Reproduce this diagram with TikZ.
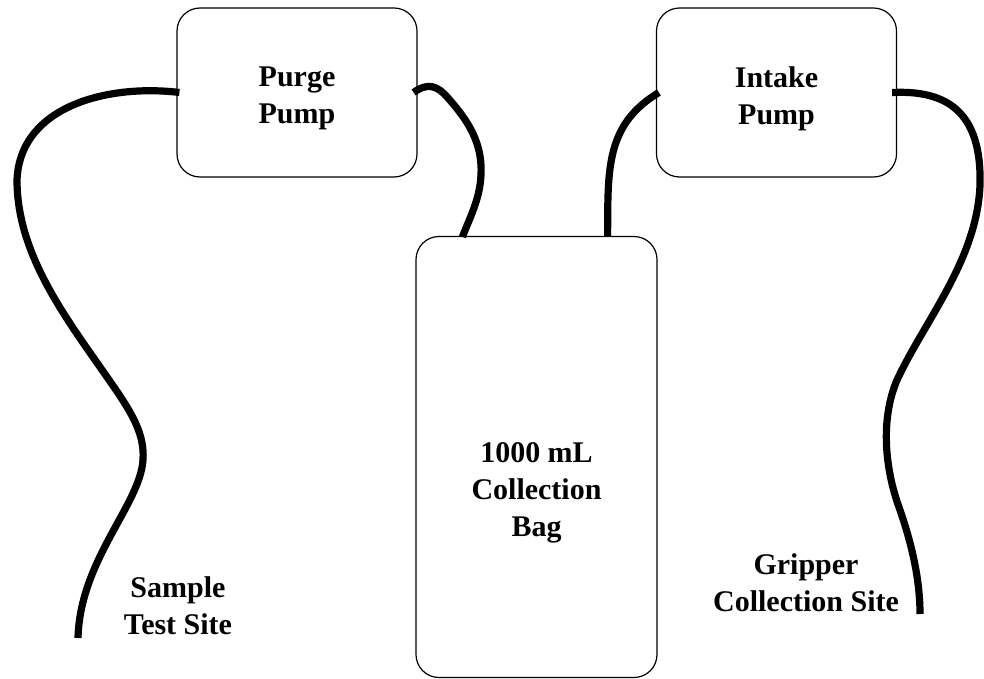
\documentclass[tikz,border=0pt]{standalone}
\usepackage{fontspec}
\setmainfont{Liberation Serif}
\usetikzlibrary{calc}

\begin{document}
\begin{tikzpicture}[
  x=0.5pt,
  y=-0.5pt,
  every node/.style={font=\fontsize{15}{18.5}\selectfont\bfseries, align=center},
  pumpbox/.style={draw, line width=0.6pt, rounded corners=11.5pt,
                  minimum width=120pt, minimum height=84.5pt, inner sep=0pt},
  bagbox/.style={pumpbox, minimum width=120.5pt, minimum height=220.5pt},
  tube/.style={line width=3.6pt, line cap=butt}
]
  \useasboundingbox (0,0) rectangle (984,679);

  % ---- pumps and the bag ----
  \node[pumpbox] (purge)  at (297,92.5)   {};
  \node[pumpbox] (intake) at (776.5,92.5) {};
  \node[bagbox]  (bag)    at (536.5,457)  {};

  % ---- box labels (set a little below centre) ----
  \node (purgelabel)  at ($(purge.center)+(0,6)$)  {Purge\\Pump};
  \node (intakelabel) at ($(intake.center)+(0,6)$) {Intake\\Pump};
  \node (baglabel)    at ($(bag.center)+(0,36)$)   {1000 mL\\Collection\\Bag};

  % ---- open ends of the lines ----
  \coordinate (sample)  at (78,638);
  \coordinate (gripper) at (920,614);

  % ---- site labels ----
  \node (samplelabel)  at (178,606) {Sample\\Test Site};
  \node (gripperlabel) at (806,583) {Gripper\\Collection Site};

  % ---- tubing ----
  \draw[tube] ([xshift=1.5pt]purge.west)
    .. controls (110,84) and (20,105) .. (17,180)
    .. controls (17,250) and (60,310) .. (100,367)
    .. controls (128,407) and (145,430) .. (143,460)
    .. controls (140,505) and (80,560) .. (sample);
  \draw[tube] ([xshift=-2pt]purge.east)
    .. controls (428,82) and (438,86) .. (448,98)
    .. controls (473,126) and (485,150) .. (480,185)
    .. controls (477,205) and (468,222) .. ($(bag.north west)+(47,1)$);
  \draw[tube] ($(bag.north east)+(-50,1)$)
    .. controls (608,170) and (605,125) .. ([xshift=1.5pt]intake.west);
  \draw[tube] ([xshift=-2.5pt]intake.east)
    .. controls (945,90) and (982,110) .. (980,185)
    .. controls (977,260) and (925,320) .. (897,380)
    .. controls (880,420) and (885,470) .. (900,510)
    .. controls (912,545) and (920,580) .. (gripper);
\end{tikzpicture}
\end{document}
